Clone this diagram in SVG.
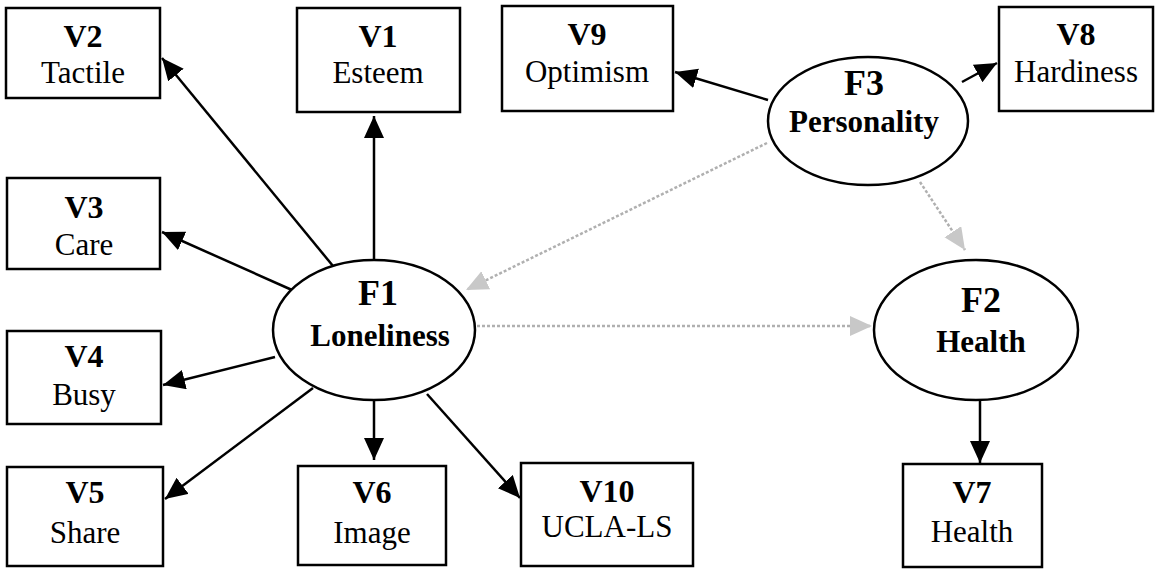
<svg xmlns="http://www.w3.org/2000/svg" width="1162" height="569" viewBox="0 0 1162 569">
<style>
.box{fill:#fff;stroke:#000;stroke-width:2.5}
.ell{fill:#fff;stroke:#000;stroke-width:2.5}
.vb{font-family:"Liberation Serif",serif;font-weight:bold;font-size:32px;text-anchor:middle}
.vn{font-family:"Liberation Serif",serif;font-size:31px;text-anchor:middle}
.fb{font-family:"Liberation Serif",serif;font-weight:bold;font-size:36px;text-anchor:middle}
.fn{font-family:"Liberation Serif",serif;font-weight:bold;font-size:31px;text-anchor:middle}
.arr{stroke:#000;stroke-width:2.5;fill:none;marker-end:url(#ah)}
.gry{stroke:#b0b0b0;stroke-width:2.5;fill:none;stroke-dasharray:3 2;marker-end:url(#gh)}
</style>
<defs>
<marker id="ah" markerUnits="userSpaceOnUse" markerWidth="24" markerHeight="22" refX="22" refY="10" orient="auto">
<path d="M0,0 L22,10 L0,20 z" fill="#000"/>
</marker>
<marker id="gh" markerUnits="userSpaceOnUse" markerWidth="24" markerHeight="22" refX="22" refY="10" orient="auto">
<path d="M0,0 L22,10 L0,20 z" fill="#c8c8c8"/>
</marker>
</defs>
<rect width="1162" height="569" fill="#fff"/>
<g id="connectors">
<line class="arr" x1="374" y1="260" x2="374" y2="116"/>
<line class="arr" x1="333" y1="266" x2="162" y2="58"/>
<line class="arr" x1="292" y1="290" x2="162" y2="232"/>
<line class="arr" x1="275" y1="357" x2="163" y2="385"/>
<line class="arr" x1="313" y1="388" x2="165" y2="499"/>
<line class="arr" x1="374" y1="400" x2="374" y2="460"/>
<line class="arr" x1="427" y1="394" x2="520" y2="498"/>
<line class="arr" x1="980" y1="401" x2="980" y2="463"/>
<line class="arr" x1="768" y1="100" x2="675" y2="72"/>
<line class="arr" x1="962" y1="82" x2="997" y2="63"/>
<line class="gry" x1="767" y1="143" x2="466" y2="290"/>
<line class="gry" x1="477" y1="326" x2="872" y2="326"/>
<line class="gry" x1="920" y1="182" x2="965" y2="250"/>
</g>
<g id="V1"><rect class="box" x="297" y="8" width="163" height="104"/><text class="vb" x="378" y="47">V1</text><text class="vn" x="378" y="83">Esteem</text></g>
<g id="V2"><rect class="box" x="6" y="8" width="154" height="90"/><text class="vb" x="83" y="47">V2</text><text class="vn" x="83" y="83">Tactile</text></g>
<g id="V3"><rect class="box" x="7" y="178" width="153" height="91"/><text class="vb" x="84" y="218">V3</text><text class="vn" x="84" y="255">Care</text></g>
<g id="V4"><rect class="box" x="7" y="331" width="154" height="93"/><text class="vb" x="84" y="367">V4</text><text class="vn" x="84" y="405">Busy</text></g>
<g id="V5"><rect class="box" x="7" y="467" width="156" height="99"/><text class="vb" x="85" y="503">V5</text><text class="vn" x="85" y="543">Share</text></g>
<g id="V6"><rect class="box" x="298" y="466" width="148" height="99"/><text class="vb" x="372" y="503">V6</text><text class="vn" x="372" y="543">Image</text></g>
<g id="V10"><rect class="box" x="521" y="463" width="172" height="103"/><text class="vb" x="607" y="502">V10</text><text class="vn" x="607" y="537">UCLA-LS</text></g>
<g id="V7"><rect class="box" x="903" y="464" width="139" height="103"/><text class="vb" x="972" y="503">V7</text><text class="vn" x="972" y="542">Health</text></g>
<g id="V9"><rect class="box" x="502" y="6" width="171" height="105"/><text class="vb" x="587" y="45">V9</text><text class="vn" x="587" y="82">Optimism</text></g>
<g id="V8"><rect class="box" x="999" y="7" width="154" height="104"/><text class="vb" x="1076" y="45">V8</text><text class="vn" x="1076" y="82">Hardiness</text></g>
<g id="F1"><ellipse class="ell" cx="374" cy="330" rx="101" ry="70"/><text class="fb" x="378" y="305">F1</text><text class="fn" x="380" y="346">Loneliness</text></g>
<g id="F2"><ellipse class="ell" cx="976" cy="330" rx="102" ry="70"/><text class="fb" x="981" y="312">F2</text><text class="fn" x="981" y="352">Health</text></g>
<g id="F3"><ellipse class="ell" cx="868" cy="121" rx="100" ry="64"/><text class="fb" x="864" y="95">F3</text><text class="fn" x="864" y="132">Personality</text></g>
</svg>
